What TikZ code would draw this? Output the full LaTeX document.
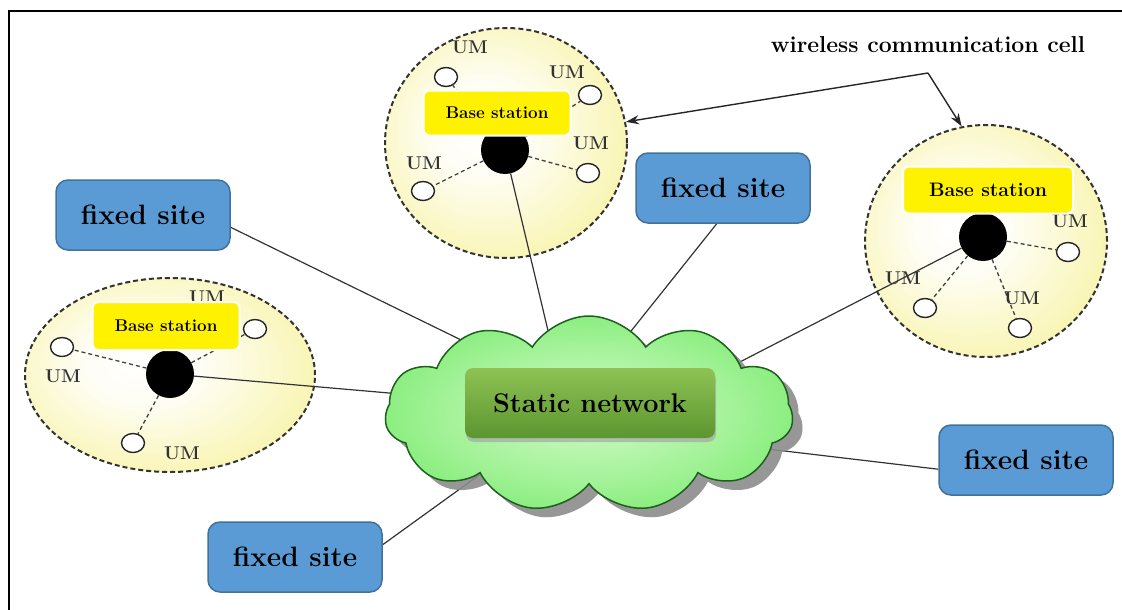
\documentclass[tikz,border=0pt]{standalone}
\usepackage{fontspec}
\usepackage{xcolor}
\usetikzlibrary{shapes.geometric,shapes.symbols,shadows,arrows.meta}

\definecolor{siteblue}{RGB}{91,155,213}
\definecolor{siteedge}{RGB}{65,113,156}
\definecolor{cellyellow}{RGB}{247,242,158}
\definecolor{cloudgreen}{RGB}{104,232,92}
\definecolor{cloudlight}{RGB}{210,250,200}
\definecolor{cloudedge}{RGB}{30,95,30}
\definecolor{netgreenA}{RGB}{142,194,84}
\definecolor{netgreenB}{RGB}{92,150,48}
\definecolor{umgray}{RGB}{50,50,50}

\pgfdeclareradialshading{cellglow}{\pgfpoint{-6bp}{4bp}}{color(0bp)=(white); color(10bp)=(white!90!cellyellow); color(34bp)=(cellyellow); color(50bp)=(cellyellow)}
\pgfdeclareradialshading{cloudglow}{\pgfpointorigin}{color(0bp)=(cloudlight); color(18bp)=(cloudlight!55!cloudgreen); color(36bp)=(cloudgreen); color(50bp)=(cloudgreen)}

\pgfdeclarelayer{cells}
\pgfdeclarelayer{links}
\pgfsetlayers{cells,links,main}

\tikzset{
  cell/.style={ellipse, draw=black!80, dash pattern=on 5pt off 3pt, line width=2pt, shade, shading=cellglow, inner sep=0pt},
  bsdot/.style={circle, fill=black, minimum size=48pt, inner sep=0pt},
  umnode/.style={ellipse, draw=black!85, fill=white, line width=1.4pt, minimum width=23pt, minimum height=19pt, inner sep=0pt},
  umtext/.style={font=\fontsize{18.5}{20}\selectfont\bfseries, text=umgray, inner sep=0pt},
  bslabel/.style={rectangle, rounded corners=6pt, fill=yellow, draw=white, line width=2pt, font=\fontsize{17}{19}\selectfont\bfseries},
  site/.style={rectangle, rounded corners=12pt, fill=siteblue, draw=siteedge, line width=1.5pt, minimum width=174pt, minimum height=70pt, font=\fontsize{28}{31}\selectfont\bfseries},
  umlink/.style={draw=black!75, dash pattern=on 4pt off 3pt, line width=1.3pt},
  link/.style={draw=black!80, line width=1.2pt},
  wcarrow/.style={draw=black!85, line width=1.4pt, -{Stealth[length=13pt,width=9pt]}}
}

\begin{document}
\begin{tikzpicture}[x=1pt, y=-1pt]
  \useasboundingbox (0,0) rectangle (1122,610);
  % frame on the left and top only
  \draw[line width=2pt] (9,610) -- (9,11) -- (1122,11);

  % wireless cells
  \begin{pgfonlayer}{cells}
    \node[cell, minimum width=242pt, minimum height=230pt] (topcell) at (506,143) {};
    \node[cell, minimum width=242pt, minimum height=232pt] (rightcell) at (986,241) {};
    \node[cell, minimum width=290pt, minimum height=194pt] (leftcell) at (170,375) {};
  \end{pgfonlayer}

  % base stations
  \node[bsdot] (topbs) at (505,150) {};
  \node[bsdot] (rightbs) at (983,237) {};
  \node[bsdot] (leftbs) at (170,374) {};

  % mobile units in the top cell
  \node[umnode] (tum1) at (446,77) {};
  \node[umnode] (tum2) at (590,95) {};
  \node[umnode] (tum3) at (588,173) {};
  \node[umnode] (tum4) at (423,191) {};
  \node[umtext] (tum1l) at (470,47) {UM};
  \node[umtext] (tum2l) at (567,72) {UM};
  \node[umtext] (tum3l) at (591,143) {UM};
  \node[umtext] (tum4l) at (424,163) {UM};

  % mobile units in the right cell
  \node[umnode] (rum1) at (1068,252) {};
  \node[umnode] (rum2) at (925,308) {};
  \node[umnode] (rum3) at (1020,328) {};
  \node[umtext] (rum1l) at (1070,221) {UM};
  \node[umtext] (rum2l) at (903,278) {UM};
  \node[umtext] (rum3l) at (1022,298) {UM};

  % mobile units in the left cell
  \node[umnode] (lum1) at (62,347) {};
  \node[umnode] (lum2) at (255,329) {};
  \node[umnode] (lum3) at (133,443) {};
  \node[umtext] (lum1l) at (63,376) {UM};
  \node[umtext] (lum2l) at (207,297) {UM};
  \node[umtext] (lum3l) at (182,453) {UM};

  \begin{pgfonlayer}{links}
    \foreach \u in {tum1,tum2,tum3,tum4} \draw[umlink] (topbs) -- (\u);
    \foreach \u in {rum1,rum2,rum3} \draw[umlink] (rightbs) -- (\u);
    \foreach \u in {lum1,lum2,lum3} \draw[umlink] (leftbs) -- (\u);
  \end{pgfonlayer}

  \node[bslabel, minimum width=147pt, minimum height=45pt] (topbsl) at (497,113) {Base station};
  \node[bslabel, minimum width=170pt, minimum height=47pt, font=\fontsize{19.5}{21}\selectfont\bfseries] (rightbsl) at (988,190) {Base station};
  \node[bslabel, minimum width=147pt, minimum height=48pt] (leftbsl) at (166,326) {Base station};

  % static network cloud
  \node[cloud, cloud puffs=11, cloud puff arc=115, cloud ignores aspect, minimum width=408pt, minimum height=196pt,
        draw=cloudedge, line width=1.5pt, shade, shading=cloudglow,
        drop shadow={shadow xshift=10pt, shadow yshift=-9pt, fill=black!45, opacity=0.9}] (net) at (589,414) {};
  \node[rectangle, rounded corners=8pt, top color=netgreenA, bottom color=netgreenB, minimum width=250pt, minimum height=70pt,
        drop shadow={shadow xshift=1pt, shadow yshift=-4pt, fill=black!35, opacity=0.7},
        font=\fontsize{27}{30}\selectfont\bfseries] (netl) at (590,403) {Static network};

  % fixed sites
  \node[site] (site1) at (143,215) {fixed site};
  \node[site] (site2) at (723,188) {fixed site};
  \node[site] (site3) at (1026,460) {fixed site};
  \node[site] (site4) at (295,557) {fixed site};

  \begin{pgfonlayer}{links}
    \draw[link, shorten >=-6pt] (site1.-8) -- (net.150);
    \draw[link, shorten >=-6pt] (topbs) -- (net.116);
    \draw[link, shorten >=-6pt] (site2.-100) -- (net.63);
    \draw[link, shorten >=-6pt] (rightbs) -- (net.19.5);
    \draw[link, shorten >=-6pt] (leftbs) -- (net.174);
    \draw[link, shorten >=-6pt] (site3.186.6) -- (net.-11);
    \draw[link, shorten >=-6pt] (site4.8) -- (net.209);
  \end{pgfonlayer}

  % cell label with its two arrows
  \node[font=\fontsize{23}{26}\selectfont\bfseries] (wcl) at (928,45) {wireless communication cell};
  \coordinate (wcfoot) at (928,73);
  \draw[wcarrow] (wcfoot) -- (topcell.10);
  \draw[wcarrow] (wcfoot) -- (rightcell.102);
\end{tikzpicture}
\end{document}
